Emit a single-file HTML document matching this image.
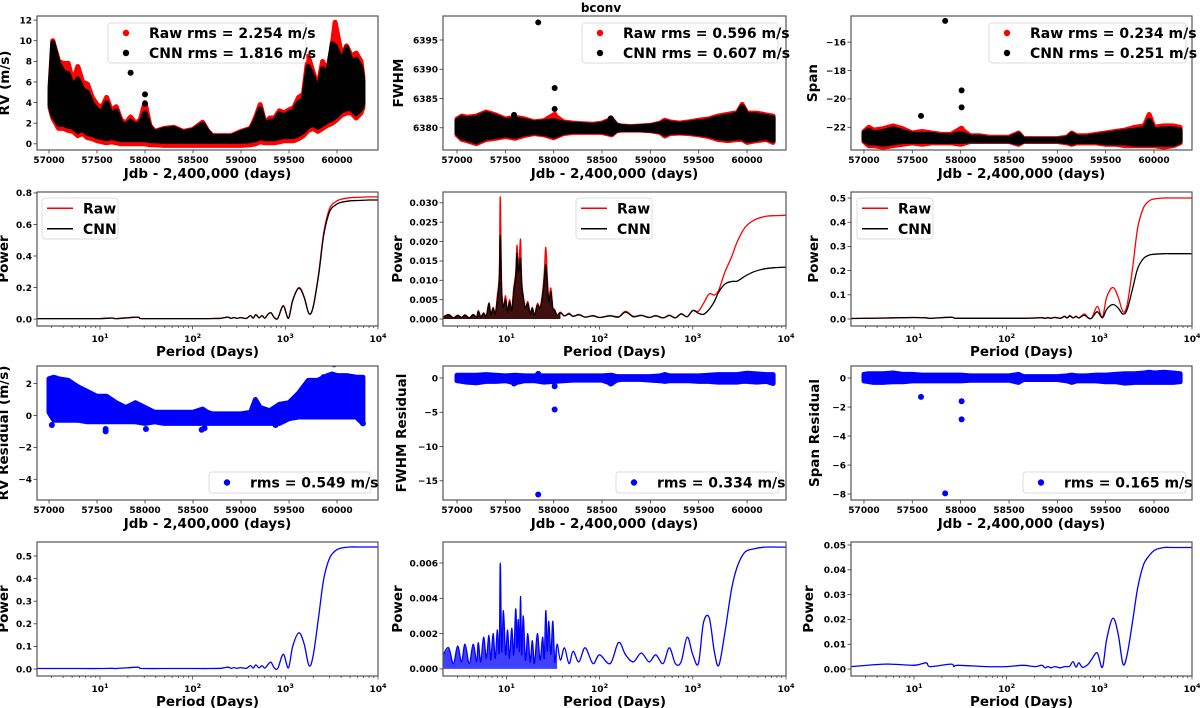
<!DOCTYPE html>
<html><head><meta charset="utf-8"><style>
html,body{margin:0;padding:0;background:#fff;}
svg{display:block;font-family:"DejaVu Sans","Liberation Sans",sans-serif;}
</style></head><body>
<svg id="fig" width="1200" height="708" viewBox="0 0 1200 708" xmlns="http://www.w3.org/2000/svg">
<text x="601" y="12" text-anchor="middle" font-size="12" font-weight="bold">bconv</text>
</svg>
<script>
// ---------- DATA ----------
const timeTicks = [57000,57500,58000,58500,59000,59500,60000];
const rvT = [57010,57040,57100,57150,57200,57250,57300,57350,57400,57450,57500,57550,57600,57650,57700,57750,57800,57850,57900,57950,58000,58050,58100,58200,58300,58400,58500,58600,58650,58700,58800,58900,59000,59100,59150,59200,59250,59300,59350,59400,59450,59500,59550,59600,59650,59700,59750,59800,59850,59900,59950,59980,60050,60100,60150,60200,60250,60270];
const rvRawHi = [5.5,10,8,7.8,7.8,6,7.5,6,5.8,4.5,3.8,3.5,4.5,3.2,3.6,2.3,2.0,2.6,2.0,2.3,4.0,1.8,1.2,1.5,1.6,1.2,1.4,2.1,1.3,0.8,0.8,0.8,1.2,1.5,2.5,3.8,2.0,2.5,2.5,3.2,3.0,3.3,3.5,4.5,4.8,8.5,7.0,5.5,8.0,7.0,9.5,11.8,8.5,9.5,8.5,8.8,8.0,6.5];
const rvRawLo = [3.5,2.5,1.5,1.5,1.3,1.2,0.8,1.0,0.6,0.5,0.3,0.2,0.1,0.2,0.1,0,0,0,0,0,0,-0.1,-0.1,-0.15,-0.15,-0.15,-0.15,-0.15,-0.15,-0.15,-0.15,-0.15,-0.15,-0.1,0,0.2,0.1,0.1,0.1,0.2,0.3,0.3,0.3,0.5,0.8,1.3,1.5,1.2,1.5,1.8,2.0,2.2,2.8,3,3,2.5,3,3.5];
const rvCnnHi = [5.0,9.8,7.8,7.0,6.8,5.5,6.3,5.3,5.0,3.9,3.3,3.0,4.0,2.8,3.2,2.0,1.8,2.2,1.8,2.0,3.0,1.6,1.1,1.4,1.5,1.1,1.3,1.9,1.2,0.7,0.7,0.7,1.1,1.4,2.2,3.4,1.8,2.2,2.2,2.9,2.7,3.0,3.2,4.0,4.3,7.5,6.5,5.0,7.3,6.5,9.7,9.5,8.0,9.3,8.0,8.2,7.4,6.0];
const rvCnnLo = [3.8,2.8,1.9,1.9,1.7,1.6,1.2,1.4,1.0,0.9,0.7,0.6,0.5,0.6,0.5,0.4,0.4,0.4,0.4,0.4,0.4,0.3,0.3,0.25,0.25,0.25,0.25,0.25,0.25,0.25,0.25,0.25,0.25,0.3,0.4,0.6,0.5,0.5,0.5,0.6,0.7,0.7,0.7,0.9,1.2,1.7,1.9,1.6,1.9,2.2,2.4,2.6,3.2,3.4,3.4,2.9,3.4,3.9];
const rvCnnOutT = [57850,58000,58000];
const rvCnnOutV = [6.9,4.8,3.9];

const tB = [57000,57050,57100,57200,57300,57400,57500,57600,57700,57800,57900,58000,58100,58200,58300,58400,58500,58600,58650,58700,58800,58900,59000,59100,59150,59200,59300,59400,59500,59600,59700,59800,59900,59950,60000,60100,60200,60270];
const fwRawHi = [6381.5,6382,6381.8,6382,6382.7,6382.2,6381.5,6381.8,6381.5,6381,6381.2,6382.2,6381,6380.8,6380.7,6380.6,6380.8,6381.5,6380.5,6380.3,6380.2,6380.3,6380.4,6380.8,6381.3,6381,6380.8,6381,6381.3,6381.5,6382,6382.3,6382.6,6384,6382.5,6382.5,6382.2,6382];
const fwRawLo = [6378.8,6378,6377.8,6377.3,6378,6378.2,6378.5,6378.2,6378.7,6379,6378.8,6378.3,6379,6379.2,6379.2,6379.2,6379.2,6378.8,6379.5,6379.6,6379.6,6379.6,6379.5,6379.2,6378.6,6379,6379.1,6379,6378.8,6378.5,6378,6377.8,6378,6378,6377.5,6377.8,6378,6377.5];
const fwCnnHi = [6381.2,6381.7,6381.5,6381.7,6382.4,6381.9,6381.2,6381.5,6381.2,6380.8,6381,6381.2,6380.8,6380.6,6380.5,6380.4,6380.6,6381.3,6380.4,6380.2,6380.1,6380.2,6380.3,6380.6,6381,6380.8,6380.6,6380.8,6381,6381.2,6381.7,6382,6382.3,6383.6,6382.2,6382.2,6381.9,6381.7];
const fwCnnLo = [6379.1,6378.3,6378.1,6377.6,6378.3,6378.5,6378.8,6378.5,6379,6379.2,6379,6378.6,6379.2,6379.4,6379.4,6379.4,6379.4,6379,6379.6,6379.7,6379.7,6379.7,6379.6,6379.4,6378.9,6379.2,6379.3,6379.2,6379,6378.8,6378.3,6378.1,6378.3,6378.3,6377.8,6378.1,6378.3,6377.8];
const fwRawOutT = [58010];
const fwRawOutV = [6382.2];
const fwCnnOutT = [57840,58010,58010,57590,58590];
const fwCnnOutV = [6398,6386.8,6383.2,6382.2,6381.6];

const spRawHi = [-22.3,-22.0,-22.2,-22.1,-21.9,-22.1,-22.4,-22.3,-22.4,-22.5,-22.5,-22.1,-22.6,-22.6,-22.7,-22.7,-22.7,-22.4,-22.8,-22.8,-22.8,-22.8,-22.8,-22.7,-22.4,-22.6,-22.6,-22.5,-22.4,-22.3,-22.2,-22.0,-21.9,-21.1,-22.0,-21.9,-21.9,-22.0];
const spRawLo = [-23.0,-23.3,-23.3,-23.4,-23.3,-23.2,-23.1,-23.2,-23.1,-23.1,-23.1,-23.2,-23.0,-23.0,-23.0,-23.0,-23.0,-23.2,-23.0,-23.0,-23.0,-23.0,-23.0,-23.1,-23.2,-23.1,-23.1,-23.1,-23.2,-23.2,-23.3,-23.3,-23.3,-23.3,-23.3,-23.4,-23.3,-23.1];
const spCnnHi = [-22.4,-22.2,-22.4,-22.3,-22.1,-22.3,-22.5,-22.5,-22.5,-22.6,-22.6,-22.4,-22.7,-22.7,-22.8,-22.8,-22.8,-22.5,-22.85,-22.85,-22.85,-22.85,-22.85,-22.8,-22.5,-22.7,-22.7,-22.6,-22.5,-22.4,-22.3,-22.2,-22.1,-21.5,-22.2,-22.1,-22.1,-22.2];
const spCnnLo = [-22.9,-23.1,-23.1,-23.2,-23.1,-23.0,-23.0,-23.0,-23.0,-23.0,-23.0,-23.0,-22.95,-22.95,-22.95,-22.95,-22.95,-23.1,-22.95,-22.95,-22.95,-22.95,-22.95,-23.0,-23.1,-23.0,-23.0,-23.0,-23.1,-23.1,-23.1,-23.2,-23.2,-23.2,-23.2,-23.2,-23.2,-23.0];
const spRawOutT = [58010];
const spRawOutV = [-22.1];
const spCnnOutT = [57840,58010,58010,57590];
const spCnnOutV = [-14.5,-19.4,-20.6,-21.2];

const rvResHi = [2.3,2.4,2.3,2.2,1.8,1.5,1.2,1.2,0.8,0.5,0.8,0.5,0.2,0.2,0.2,0.2,0.2,0.4,0.2,0.1,0.1,0.1,0.1,0.2,1.0,0.5,0.3,0.7,0.8,1.4,2.2,2.2,2.5,2.6,2.5,2.5,2.4,2.4];
const rvResLo = [0.2,-0.3,-0.3,-0.3,-0.3,-0.4,-0.4,-0.4,-0.4,-0.4,-0.4,-0.5,-0.4,-0.5,-0.5,-0.5,-0.5,-0.5,-0.5,-0.5,-0.5,-0.5,-0.5,-0.5,-0.5,-0.5,-0.5,-0.5,-0.2,-0.1,-0.1,-0.1,-0.1,-0.1,-0.1,-0.1,-0.1,-0.5];
const rvResOutT = [57030,57590,57590,58010,58590,58620,59360,59860,59970,60270,57840];
const rvResOutV = [-0.6,-1.0,-0.85,-0.85,-0.9,-0.8,-0.6,2.4,3.2,-0.5,-5.5];
const fwResHi = [0.4,0.4,0.4,0.4,0.5,0.4,0.3,0.4,0.3,0.3,0.3,0.3,0.3,0.3,0.3,0.3,0.3,0.4,0.2,0.2,0.2,0.2,0.2,0.3,0.5,0.3,0.3,0.3,0.3,0.4,0.5,0.5,0.5,0.6,0.7,0.6,0.5,0.5];
const fwResLo = [-0.4,-0.5,-0.6,-0.7,-0.5,-0.5,-0.4,-0.7,-0.4,-0.4,-0.6,-0.5,-0.4,-0.3,-0.3,-0.3,-0.3,-0.8,-0.3,-0.2,-0.2,-0.2,-0.3,-0.4,-0.5,-0.4,-0.4,-0.4,-0.5,-0.5,-0.6,-0.6,-0.6,-0.5,-0.5,-0.6,-0.5,-0.8];
const fwResOutT = [57840,58010,58010,57590,58590,57840];
const fwResOutV = [-17,-4.6,-1.2,-0.8,-0.8,0.6];
const spResHi = [0.25,0.3,0.3,0.3,0.35,0.25,0.25,0.2,0.2,0.2,0.2,0.2,0.15,0.15,0.15,0.15,0.15,0.25,0.1,0.1,0.1,0.1,0.1,0.15,0.2,0.15,0.15,0.2,0.2,0.25,0.3,0.3,0.35,0.4,0.35,0.4,0.35,0.3];
const spResLo = [-0.2,-0.25,-0.3,-0.3,-0.25,-0.25,-0.2,-0.2,-0.2,-0.2,-0.2,-0.2,-0.15,-0.15,-0.15,-0.15,-0.15,-0.3,-0.1,-0.1,-0.1,-0.1,-0.1,-0.2,-0.3,-0.2,-0.2,-0.2,-0.25,-0.25,-0.35,-0.3,-0.3,-0.3,-0.3,-0.3,-0.3,-0.25];
const spResOutT = [57590,58010,58010,57840];
const spResOutV = [-1.3,-1.6,-2.85,-7.95];

const P1 = [2.1,5,10,13.5,15,25,27,30,60,100,150,200,240,260,280,300,330,380,420,450,480,520,560,600,650,700,760,830,950,1080,1200,1400,1600,1800,2000,2300,2600,3000,3500,4000,5000,6000,8000,10000];
const rvPowRaw = [.003,.003,.003,.007,.003,.012,.004,.003,.003,.003,.003,.005,.012,.004,.010,.004,.009,.004,.022,.006,.028,.008,.022,.006,.030,.040,.010,.005,.085,.005,.120,.200,.140,.035,.080,.300,.550,.700,.745,.760,.770,.772,.775,.775];
const rvPowCnn = [.003,.003,.003,.007,.003,.012,.004,.003,.003,.003,.003,.005,.012,.004,.010,.004,.009,.004,.022,.006,.028,.008,.022,.006,.030,.040,.010,.005,.083,.005,.117,.195,.136,.034,.078,.290,.535,.680,.725,.740,.750,.752,.755,.755];
const rvPowRes = [.002,.002,.002,.003,.002,.008,.003,.002,.002,.002,.002,.003,.008,.003,.006,.003,.006,.003,.015,.004,.018,.005,.015,.004,.020,.030,.005,.003,.065,.005,.100,.160,.110,.015,.060,.240,.400,.490,.525,.535,.540,.540,.540,.540];
const spPowRaw = [.002,.004,.006,.005,.003,.008,.004,.003,.003,.003,.003,.004,.006,.003,.006,.003,.007,.003,.012,.005,.015,.005,.012,.004,.015,.020,.005,.004,.052,.008,.090,.130,.090,.030,.060,.220,.380,.460,.490,.497,.500,.500,.500,.500];
const spPowCnn = [.002,.004,.006,.005,.003,.007,.004,.003,.003,.003,.003,.004,.005,.003,.005,.003,.006,.003,.010,.004,.012,.004,.010,.004,.012,.015,.004,.004,.030,.005,.040,.060,.045,.020,.040,.130,.210,.250,.265,.268,.270,.270,.270,.270];
const spPowRes = [.001,.002,.0015,.0025,.001,.002,.001,.0015,.001,.001,.0015,.001,.0015,.0005,.001,.0005,.001,.0005,.001,.001,.0012,.003,.0008,.0025,.0008,.001,.002,.004,.0065,.0007,.012,.0205,.014,.002,.006,.020,.033,.042,.046,.048,.049,.049,.049,.049];
const P2 = [2.1,2.4,2.7,3,3.3,3.6,4,4.4,4.8,5,5.3,5.7,6.1,6.5,6.8,7.2,7.6,8,8.4,8.6,8.9,9.3,9.8,10.3,10.8,11.4,12,12.6,13,13.4,13.8,14.2,14.6,15.2,16,17,18,19,20,21.5,23,24.5,25.5,26.5,27.5,28.5,30,31.5,33,35,38,42,47,52,60,70,85,100,130,160,190,230,280,340,400,480,560,650,750,870,1000,1150,1300,1500,1700,1900,2200,2600,3000,3600,4500,6000,8000,10000];
const fwPowRaw = [.0005,.0012,.0003,.0010,.0004,.0011,.0003,.0012,.0005,.0022,.0006,.0016,.0008,.0042,.0012,.0030,.0015,.0060,.0120,.0315,.0080,.0035,.0060,.0020,.0050,.0025,.0080,.0120,.0190,.0140,.0160,.0205,.0100,.0060,.0030,.0045,.0015,.0030,.0010,.0040,.0030,.0070,.0120,.0185,.0110,.0050,.0080,.0030,.0025,.0010,.0018,.0008,.0015,.0007,.0012,.0005,.0009,.0004,.0009,.0006,.0020,.0007,.0010,.0004,.0009,.0003,.0010,.0003,.0014,.0006,.0022,.0020,.0040,.0065,.0062,.0075,.0120,.0160,.0200,.0235,.0255,.0265,.0267,.0268];
const fwPowCnn = [.0005,.0011,.0003,.0009,.0004,.0010,.0003,.0011,.0005,.0020,.0006,.0014,.0008,.0040,.0011,.0028,.0014,.0050,.0100,.0215,.0070,.0030,.0050,.0018,.0045,.0022,.0070,.0110,.0170,.0120,.0140,.0155,.0090,.0055,.0028,.0040,.0014,.0028,.0010,.0035,.0028,.0060,.0100,.0140,.0090,.0045,.0070,.0028,.0022,.0010,.0016,.0008,.0013,.0007,.0011,.0005,.0008,.0004,.0008,.0005,.0018,.0006,.0009,.0004,.0008,.0003,.0009,.0003,.0013,.0006,.0022,.0015,.0012,.0025,.0045,.0070,.0090,.0097,.0098,.0110,.0122,.0130,.0133,.0134];
const fwPowRes = [.0008,.0012,.0003,.0013,.0004,.0014,.0003,.0014,.0004,.0015,.0004,.0018,.0006,.0019,.0005,.0020,.0006,.0022,.0010,.0060,.0010,.0033,.0008,.0022,.0006,.0023,.0008,.0034,.0012,.0028,.0010,.0041,.0008,.0030,.0005,.0020,.0004,.0016,.0003,.0020,.0005,.0018,.0006,.0033,.0010,.0027,.0008,.0027,.0004,.0014,.0005,.0012,.0003,.0010,.0004,.0012,.0003,.0008,.0003,.0015,.0008,.0004,.0009,.0004,.0008,.0003,.0012,.0003,.0004,.0018,.0008,.0003,.0026,.0029,.0010,.0002,.0020,.0045,.0058,.0066,.0068,.0069,.0069,.0069];

// ---------- RENDER ----------
const NS = "http://www.w3.org/2000/svg";
const svg = document.getElementById('fig');
function mk(tag, attrs, parent){ const e=document.createElementNS(NS,tag); for(const k in attrs) e.setAttribute(k,attrs[k]); (parent||svg).appendChild(e); return e; }
const colX = [[37,378],[443,786],[851,1192]];
const rowY = [[16,150],[192,326],[366,500],[542,676]];
const tDom = [[56875,60427],[56855,60403],[56866,60393]];
const pDom = [Math.log10(2.09),4];

function makePanel(r,c,ydom,isLog,name){
  const [x0,x1]=colX[c],[y0,y1]=rowY[r];
  const g=mk('g',{});
  
  
  const xs = isLog ? (p=>x0+(Math.log10(p)-pDom[0])/(pDom[1]-pDom[0])*(x1-x0))
                   : (t=>x0+(t-tDom[c][0])/(tDom[c][1]-tDom[c][0])*(x1-x0));
  const ys = v=>y1-(v-ydom[0])/(ydom[1]-ydom[0])*(y1-y0);
  const cid='clip'+r+c;
  const cp=mk('clipPath',{id:cid},g); mk('rect',{x:x0,y:y0,width:x1-x0,height:y1-y0},cp);
  const plot=mk('g',{'clip-path':'url(#'+cid+')'},g);
  return {g,plot,xs,ys,x0,x1,y0,y1,ydom};
}
function frame(P,yticks,fmt,isLog){
  const f=mk('rect',{x:P.x0,y:P.y0,width:P.x1-P.x0,height:P.y1-P.y0,fill:'none',stroke:'#555','stroke-width':1.2},P.g);
  
  
  yticks.forEach(v=>{
    const y=P.ys(v);
    mk('line',{x1:P.x0-3.5,x2:P.x0,y1:y,y2:y,stroke:'#333','stroke-width':0.8},P.g);
    const t=mk('text',{x:P.x0-5,y:y+3.3,'text-anchor':'end','font-size':9,'font-weight':'bold'},P.g);
    t.textContent=fmt(v).replace('-','\u2212');
    
    
  });
  if(isLog){
    for(let d=0;d<4;d++) for(let m=1;m<10;m++){
      const p=m*Math.pow(10,d); if(p<2.1) continue; const x=P.xs(p);
      mk('line',{x1:x,x2:x,y1:P.y1,y2:P.y1+(m===1?3.5:2),stroke:'#333','stroke-width':0.7},P.g);
    }
    const x=P.xs(10000); mk('line',{x1:x,x2:x,y1:P.y1,y2:P.y1+3.5,stroke:'#333','stroke-width':0.7},P.g);
    [1,2,3,4].forEach(e=>{
      const t=mk('text',{x:P.xs(Math.pow(10,e)),y:P.y1+16,'text-anchor':'middle','font-size':9,'font-weight':'bold'},P.g);
      t.textContent='10'; const s=mk('tspan',{dy:-4,'font-size':6.5},t); s.textContent=String(e);
      
      
    });
  } else {
    timeTicks.forEach(v=>{
      const x=P.xs(v);
      mk('line',{x1:x,x2:x,y1:P.y1,y2:P.y1+3.5,stroke:'#333','stroke-width':0.8},P.g);
      const t=mk('text',{x:x,y:P.y1+13,'text-anchor':'middle','font-size':9,'font-weight':'bold'},P.g);
      t.textContent=String(v);
      
      
    });
  }
}
function labels(P,xl,yl,ylx){
  const t=mk('text',{x:(P.x0+P.x1)/2,y:P.y1+(xl.startsWith('Jdb')?28:30),'text-anchor':'middle','font-size':13.5,'font-weight':'bold'},P.g);
  t.textContent=xl;
  
  
  const cy=(P.y0+P.y1)/2;
  const u=mk('text',{x:ylx,y:cy,'text-anchor':'middle','font-size':13.5,'font-weight':'bold',transform:'rotate(-90 '+ylx+' '+cy+')'},P.g);
  u.textContent=yl;
  
  
}
function band(P,T,hi,lo,color,name){
  let d='M'+T.map((t,i)=>P.xs(t).toFixed(1)+','+P.ys(hi[i]).toFixed(1)).join('L');
  for(let i=T.length-1;i>=0;i--) d+='L'+P.xs(T[i]).toFixed(1)+','+P.ys(lo[i]).toFixed(1);
  const e=mk('path',{d:d+'Z',fill:color,stroke:color,'stroke-width':5,'stroke-linejoin':'round'},P.plot);
  
  
}
function dots(P,T,V,color,name){
  T.forEach((t,i)=>{
    const e=mk('circle',{cx:P.xs(t),cy:P.ys(V[i]),r:3,fill:color},P.plot);
    
    
  });
}
function curve(P,X,Y,color,name,fillBelow){
  const pts=X.map((x,i)=>[P.xs(x),P.ys(Y[i])]);
  if(fillBelow){
    let d='M'+pts[0][0].toFixed(1)+','+P.ys(0).toFixed(1);
    X.forEach((x,i)=>{ if(x<=fillBelow) d+='L'+pts[i][0].toFixed(1)+','+pts[i][1].toFixed(1); });
    const lastX=X.filter(x=>x<=fillBelow).pop();
    d+='L'+P.xs(lastX).toFixed(1)+','+P.ys(0).toFixed(1)+'Z';
    const s=mk('path',{d:d,fill:color,'fill-opacity':0.75,stroke:'none'},P.plot);
    
    
  }
  let d='M'+pts[0][0].toFixed(1)+','+pts[0][1].toFixed(1);
  for(let i=0;i<pts.length-1;i++){
    const p0=pts[Math.max(0,i-1)],p1=pts[i],p2=pts[i+1],p3=pts[Math.min(pts.length-1,i+2)];
    const c1=[p1[0]+(p2[0]-p0[0])/6,p1[1]+(p2[1]-p0[1])/6], c2=[p2[0]-(p3[0]-p1[0])/6,p2[1]-(p3[1]-p1[1])/6];
    d+='C'+c1[0].toFixed(1)+','+c1[1].toFixed(1)+' '+c2[0].toFixed(1)+','+c2[1].toFixed(1)+' '+p2[0].toFixed(1)+','+p2[1].toFixed(1);
  }
  const e=mk('path',{d:d,fill:'none',stroke:color,'stroke-width':1.3,'stroke-linejoin':'round'},P.plot);
  
  
}
function legend(x,y,w,h,items,kind,name){
  const g=mk('g',{});
  
  
  mk('rect',{x:x,y:y,width:w,height:h,rx:3,fill:'#fff','fill-opacity':0.85,stroke:'#ddd','stroke-width':1},g);
  const step=h/items.length;
  items.forEach((it,i)=>{
    const cy=y+step*(i+0.5);
    if(kind==='dot') mk('circle',{cx:x+18,cy:cy,r:3.2,fill:it[1]},g);
    else mk('line',{x1:x+5,x2:x+31,y1:cy,y2:cy,stroke:it[1],'stroke-width':1.5},g);
    const t=mk('text',{x:x+41,y:cy+5,'font-size':14,'font-weight':'bold'},g);
    t.textContent=it[0];
    
    
  });
}
const f0=v=>v.toFixed(0), f1=v=>v.toFixed(1), f2=v=>v.toFixed(2), f3=v=>v.toFixed(3);
const rng=(a,b,s)=>{const r=[];for(let v=a;v<=b+1e-9;v+=s)r.push(+v.toFixed(6));return r;};

// Row 1
let P=makePanel(0,0,[-0.6,12.4],false,'rv-timeseries');
band(P,rvT,rvRawHi,rvRawLo,'#f00','rv-raw-points'); band(P,rvT,rvCnnHi,rvCnnLo,'#000','rv-cnn-points'); dots(P,rvCnnOutT,rvCnnOutV,'#000','rv-cnn-outlier');
frame(P,rng(0,12,2),f0,false); labels(P,'Jdb - 2,400,000 (days)','RV (m/s)',9);
legend(108,23,198,40,[['Raw rms = 2.254 m/s','#f00'],['CNN rms = 1.816 m/s','#000']],'dot','rv-legend');

P=makePanel(0,1,[6376.2,6399.1],false,'fwhm-timeseries');
band(P,tB,fwRawHi,fwRawLo,'#f00','fwhm-raw-points'); band(P,tB,fwCnnHi,fwCnnLo,'#000','fwhm-cnn-points');
dots(P,fwRawOutT,fwRawOutV,'#f00','fwhm-raw-outlier'); dots(P,fwCnnOutT,fwCnnOutV,'#000','fwhm-cnn-outlier');
frame(P,[6380,6385,6390,6395],f0,false); labels(P,'Jdb - 2,400,000 (days)','FWHM',403);
legend(582,23,196,40,[['Raw rms = 0.596 m/s','#f00'],['CNN rms = 0.607 m/s','#000']],'dot','fwhm-legend');

P=makePanel(0,2,[-23.6,-14.16],false,'span-timeseries');
band(P,tB,spRawHi,spRawLo,'#f00','span-raw-points'); band(P,tB,spCnnHi,spCnnLo,'#000','span-cnn-points');
dots(P,spRawOutT,spRawOutV,'#f00','span-raw-outlier'); dots(P,spCnnOutT,spCnnOutV,'#000','span-cnn-outlier');
frame(P,[-22,-20,-18,-16],f0,false); labels(P,'Jdb - 2,400,000 (days)','Span',817);
legend(989,23,197,40,[['Raw rms = 0.234 m/s','#f00'],['CNN rms = 0.251 m/s','#000']],'dot','span-legend');

// Row 2
P=makePanel(1,0,[-0.044,0.806],true,'rv-periodogram');
curve(P,P1,rvPowRaw,'#f00','rv-raw-power'); curve(P,P1,rvPowCnn,'#000','rv-cnn-power');
frame(P,rng(0,0.8,0.2),f1,true); labels(P,'Period (Days)','Power',8);
legend(42,198,76,41,[['Raw','#f00'],['CNN','#000']],'line','rv-power-legend');

P=makePanel(1,1,[-0.0018,0.0328],true,'fwhm-periodogram');
curve(P,P2,fwPowRaw,'#f00','fwhm-raw-power',40); curve(P,P2,fwPowCnn,'#000','fwhm-cnn-power',40);
frame(P,rng(0,0.03,0.005),f3,true); labels(P,'Period (Days)','Power',402);
legend(576,198,76,41,[['Raw','#f00'],['CNN','#000']],'line','fwhm-power-legend');

P=makePanel(1,2,[-0.029,0.525],true,'span-periodogram');
curve(P,P1,spPowRaw,'#f00','span-raw-power'); curve(P,P1,spPowCnn,'#000','span-cnn-power');
frame(P,rng(0,0.5,0.1),f1,true); labels(P,'Period (Days)','Power',818);
legend(857,198,76,41,[['Raw','#f00'],['CNN','#000']],'line','span-power-legend');

// Row 3
P=makePanel(2,0,[-5.3,3.1],false,'rv-residual');
band(P,tB,rvResHi,rvResLo,'#00f','rv-residual-points'); dots(P,rvResOutT,rvResOutV,'#00f','rv-residual-outlier');
frame(P,[-4,-2,0,2],f0,false); labels(P,'Jdb - 2,400,000 (days)','RV Residual (m/s)',8);
legend(209,472,162,21,[['rms = 0.549 m/s','#00f']],'dot','rv-residual-legend');

P=makePanel(2,1,[-17.8,1.75],false,'fwhm-residual');
band(P,tB,fwResHi,fwResLo,'#00f','fwhm-residual-points'); dots(P,fwResOutT,fwResOutV,'#00f','fwhm-residual-outlier');
frame(P,[-15,-10,-5,0],f0,false); labels(P,'Jdb - 2,400,000 (days)','FWHM Residual',406);
legend(616,472,163,21,[['rms = 0.334 m/s','#00f']],'dot','fwhm-residual-legend');

P=makePanel(2,2,[-8.41,0.83],false,'span-residual');
band(P,tB,spResHi,spResLo,'#00f','span-residual-points'); dots(P,spResOutT,spResOutV,'#00f','span-residual-outlier');
frame(P,[-8,-6,-4,-2,0],f0,false); labels(P,'Jdb - 2,400,000 (days)','Span Residual',819);
legend(1023,472,163,21,[['rms = 0.165 m/s','#00f']],'dot','span-residual-legend');

// Row 4
P=makePanel(3,0,[-0.031,0.562],true,'rv-residual-periodogram');
curve(P,P1,rvPowRes,'#00f','rv-residual-power');
frame(P,rng(0,0.5,0.1),f1,true); labels(P,'Period (Days)','Power',8);

P=makePanel(3,1,[-0.0004,0.00719],true,'fwhm-residual-periodogram');
curve(P,P2,fwPowRes,'#00f','fwhm-residual-power',35);
frame(P,rng(0,0.006,0.002),f3,true); labels(P,'Period (Days)','Power',402);

P=makePanel(3,2,[-0.0028,0.0512],true,'span-residual-periodogram');
curve(P,P1,spPowRes,'#00f','span-residual-power');
frame(P,rng(0,0.05,0.01),f2,true); labels(P,'Period (Days)','Power',813);
</script>
</body></html>
